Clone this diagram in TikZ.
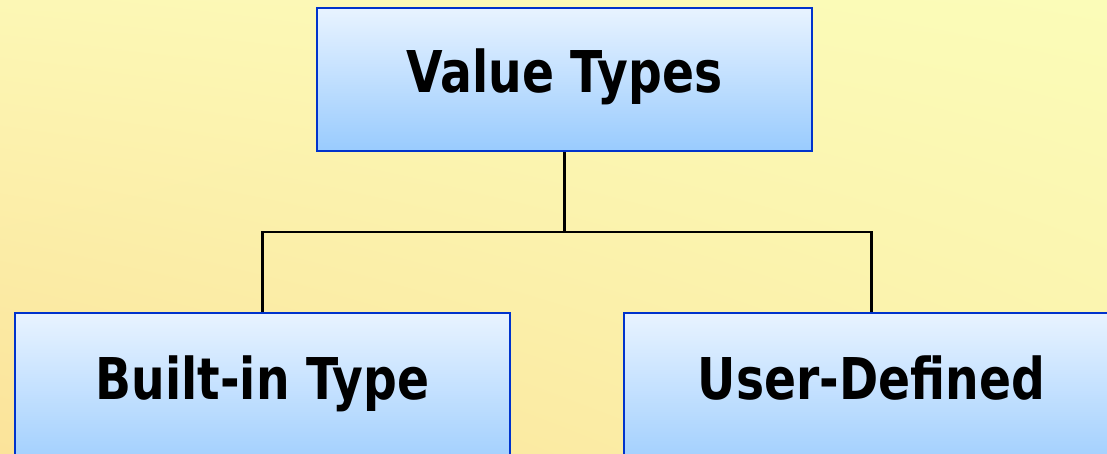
\documentclass[tikz,border=0pt]{standalone}
\usepackage{fontspec}
\usetikzlibrary{shadings}
\newfontfamily\boxfont{DejaVu Sans}[FakeStretch=0.82]
\definecolor{bgUL}{HTML}{FCF7B5}
\definecolor{bgUR}{HTML}{FBFCB8}
\definecolor{bgLL}{HTML}{FBE39A}
\definecolor{bgLR}{HTML}{FBF2AC}
\definecolor{boxtop}{HTML}{E8F3FF}
\definecolor{boxbot}{HTML}{99CBFE}
\definecolor{boxline}{HTML}{0033CC}
\tikzset{
  typebox/.style={rectangle, draw=boxline, line width=2.6pt,
    top color=boxtop, bottom color=boxbot, inner sep=0pt,
    minimum width=495pt, font=\boxfont\bfseries\fontsize{57.6}{60}\selectfont},
  topbox/.style={typebox, minimum height=143pt, text height=84.5pt, text depth=58.5pt},
  lowbox/.style={typebox, minimum height=167pt, text height=86pt, text depth=81pt},
  link/.style={line width=2.1pt, draw=black}
}
\begin{document}
\begin{tikzpicture}[x=1pt, y=-1pt]
  \path[use as bounding box] (0,0) rectangle (1107,453);
  \clip (0,0) rectangle (1107,453);
  % yellow backdrop
  \shade[upper left=bgUL, upper right=bgUR, lower left=bgLL, lower right=bgLR]
    (0,0) rectangle (1107,453);
  % hierarchy boxes
  \node[topbox] (vt) at (564.5,79.5) {Value Types};
  \node[lowbox] (bt) at (262.5,396.5) {Built-in Type};
  \node[lowbox] (ud) at (871.5,396.5) {User-Defined};
  % connectors
  \coordinate (j) at (564.5,232);
  \draw[link] (vt.south) -- (j);
  \draw[link] (bt.north) |- (j) -| (ud.north);
\end{tikzpicture}
\end{document}
